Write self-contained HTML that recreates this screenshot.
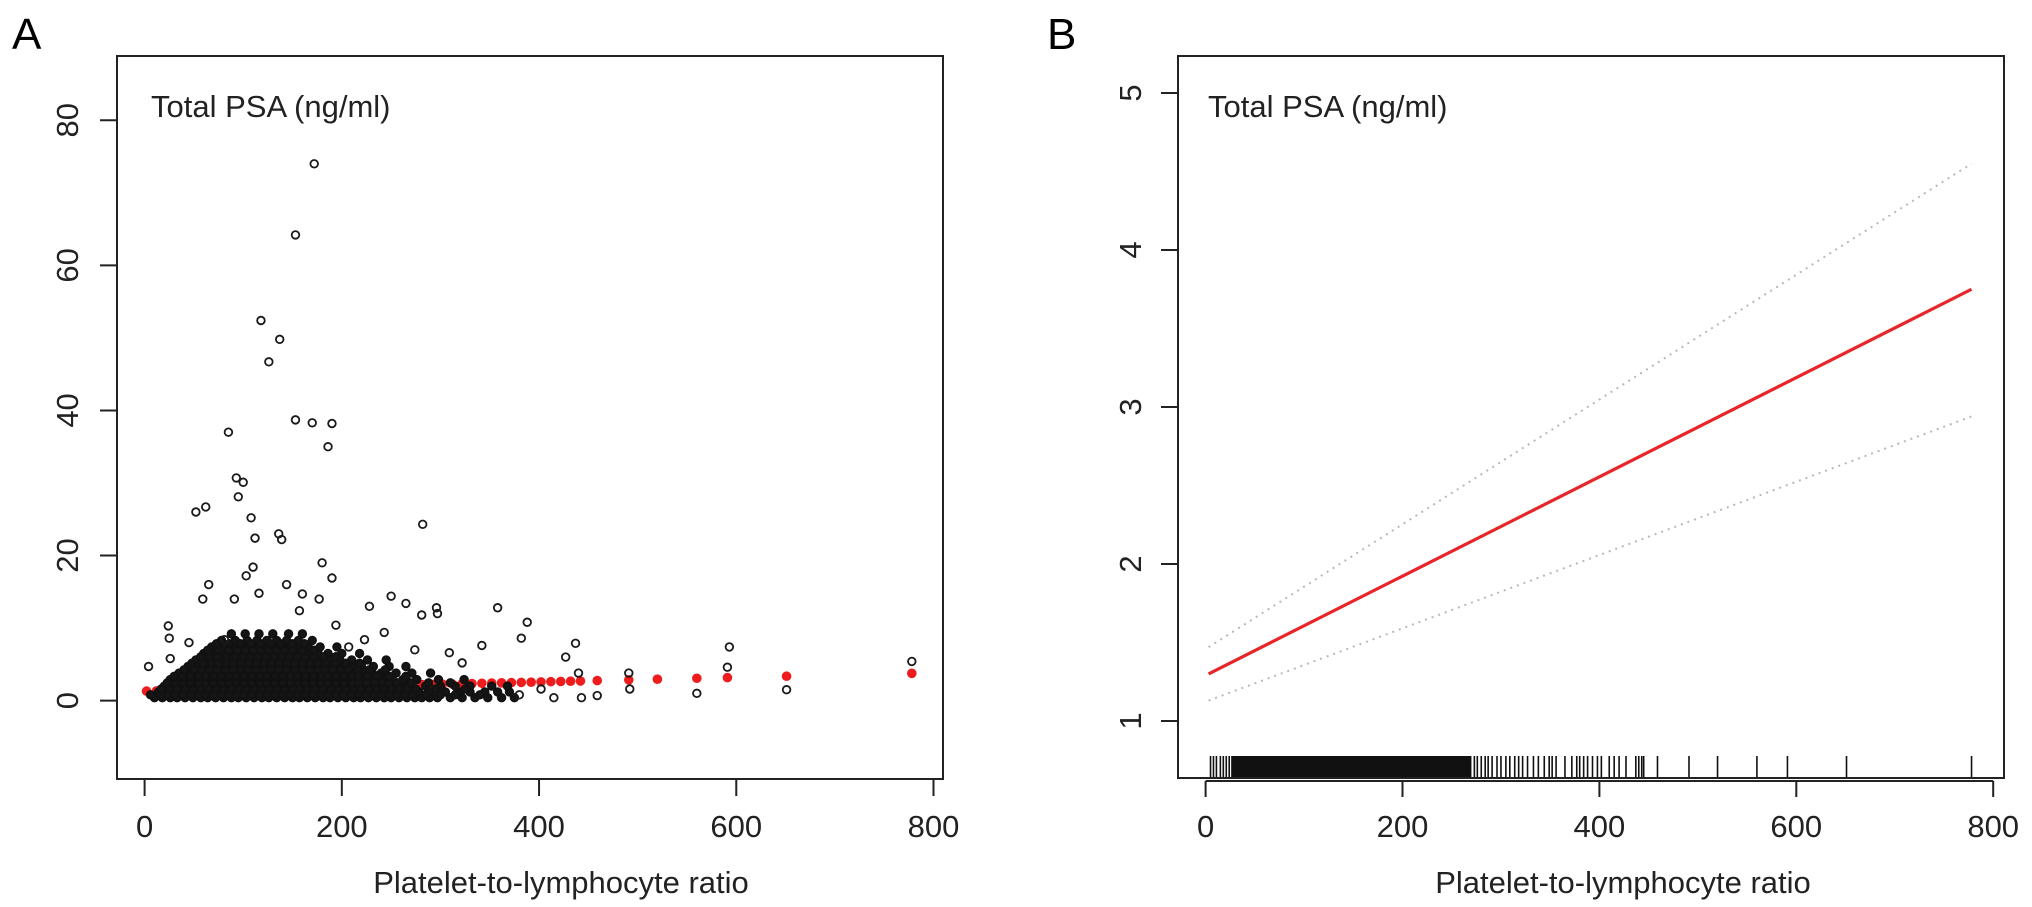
<!DOCTYPE html>
<html><head><meta charset="utf-8"><style>
html,body{margin:0;padding:0;background:#fff;}
svg{display:block;font-family:"Liberation Sans",Arial,sans-serif;}
</style></head>
<body>
<svg id="fig" width="2032" height="907" viewBox="0 0 2032 907" xmlns="http://www.w3.org/2000/svg">
<g id="panelA"></g>
<g id="panelB"></g>
</svg>
<script>
// ---------- Panel A data ----------
const aXTicks = [0, 200, 400, 600, 800];
const aYTicks = [0, 20, 40, 60, 80];
const outX = [172,153,118,137,126,153,170,190,186,85,93,100,95,52,62,108,112,136,139,282,180,190,65,110,103,144,116,91,59,160,177,250,228,265,296,358,297,388,281,24,25,26,4,382,437,427,342,593,591,491,492,560,651,778,459,443,440,402,415,380,309,322,274,243,223,194,81,45,157,207];
const outY = [74.0,64.2,52.4,49.8,46.7,38.7,38.3,38.2,35.0,37.0,30.7,30.1,28.1,26.0,26.7,25.2,22.4,23.0,22.2,24.3,19.0,16.9,16.0,18.4,17.2,16.0,14.8,14.0,14.0,14.7,14.0,14.4,13.0,13.4,12.8,12.8,12.0,10.8,11.8,10.3,8.6,5.8,4.7,8.6,7.9,6.0,7.6,7.4,4.6,3.8,1.6,1.0,1.5,5.4,0.7,0.4,3.8,1.6,0.4,0.8,6.6,5.2,7.0,9.4,8.4,10.4,8.4,8.0,12.4,7.4];
const blobRowY = [0.4,1.2,2.0,2.9,3.8,4.7,5.6,6.5,7.4,8.3,9.2,0.8,1.6,2.45,3.35,4.25,5.15,6.05,6.95,7.85];
const blobRowX = [
 [10,18,26,33,41,49,57,64,72,80,88,95,103,111,119,126,134,142,150,157,165,173,181,188,196,204,212,219,227,235,243,250,258,266,274,281,289,297,310,322,335,348,362,375],
 [14,22,30,37,45,53,61,68,76,84,92,99,107,115,123,130,138,146,154,161,169,177,185,192,200,208,216,223,231,239,247,254,262,270,278,290,305,318,330,345,358,370],
 [20,28,35,43,51,59,66,74,82,90,97,105,113,121,128,136,144,152,159,167,175,183,190,198,206,214,221,229,237,245,252,260,268,285,300,315,330,352,368],
 [26,34,42,50,58,65,73,81,89,96,104,112,120,127,135,143,151,158,166,174,182,189,197,205,213,220,228,236,244,251,262,276,298,324],
 [35,45,53,60,68,76,84,91,99,107,115,122,130,138,146,153,161,169,177,184,192,200,208,215,223,231,240,255,271,290],
 [44,55,63,71,79,86,94,102,110,117,125,133,141,148,156,164,172,179,187,195,203,211,220,232,248,265],
 [52,62,70,78,86,94,101,109,117,125,132,140,148,156,163,171,179,188,198,210,226,245],
 [60,70,80,88,96,104,112,119,127,135,143,151,159,167,176,186,200,218],
 [68,80,90,100,108,116,124,132,140,148,157,166,178,195],
 [78,92,104,114,124,134,144,156,170],
 [88,102,116,130,146,160],
 [6,16,24,31,39,47,55,62,70,78,86,93,101,109,117,124,132,140,148,155,163,171,179,186,194,202,210,217,225,233,241,248,256,264,272,285,300,315,340],
 [17,25,33,41,49,57,64,72,80,88,95,103,111,119,126,134,142,150,157,165,173,181,188,196,204,212,219,227,235,243,250,258,266,275,295,325],
 [23,31,39,47,55,62,70,78,86,93,101,109,117,124,132,140,148,155,163,171,179,186,194,202,210,217,225,233,241,248,256,270,288,310],
 [30,39,47,55,62,70,78,86,93,101,109,117,124,132,140,148,155,163,171,179,186,194,202,210,217,226,236,248,265],
 [40,50,58,66,74,82,90,97,105,113,121,128,136,144,152,160,168,176,183,191,199,207,216,228,244],
 [48,59,67,75,83,90,98,106,114,121,129,137,145,152,160,168,176,184,193,204,218],
 [57,66,74,83,91,99,107,115,123,131,139,147,155,163,172,182,194],
 [64,75,85,94,102,110,118,126,134,142,150,160,172],
 [73,86,97,108,118,128,138,150,162]
];
const redX = [2,12,22,32,42,52,62,72,82,92,102,112,122,132,142,152,162,172,182,192,202,212,222,232,242,252,262,272,282,292,302,312,322,332,342,352,362,372,382,392,402,412,422,432,442,459,491,520,560,591,651,778];
const redY = [1.31,1.34,1.37,1.40,1.44,1.47,1.50,1.53,1.56,1.60,1.63,1.66,1.69,1.72,1.75,1.79,1.82,1.85,1.88,1.91,1.94,1.98,2.01,2.04,2.07,2.10,2.13,2.17,2.20,2.23,2.26,2.29,2.32,2.35,2.39,2.42,2.45,2.48,2.51,2.54,2.58,2.61,2.64,2.67,2.70,2.76,2.86,2.95,3.08,3.17,3.36,3.76];

// ---------- Panel B data ----------
const bXTicks = [0, 200, 400, 600, 800];
const bYTicks = [1, 2, 3, 4, 5];
const fitX = [3, 778];
const fitY = [1.30, 3.75];
const upperY = [1.47, 4.55];
const lowerY = [1.13, 2.94];
const rugX = [5,8,11,15,18,21,24,28,31,34,37,40,43,46,49,52,55,58,61,64,67,70,73,76,79,82,85,88,91,94,97,100,103,106,109,112,115,118,121,124,127,130,133,136,139,142,145,148,151,154,157,160,163,166,169,172,175,178,181,184,187,190,193,196,199,202,205,208,211,214,217,220,223,226,229,232,235,238,241,244,247,250,253,256,259,262,265,268,273,276,280,284,287,291,296,300,305,309,314,318,322,327,333,338,344,349,352,356,365,372,377,380,384,388,393,398,402,410,415,420,427,437,440,443,445,459,491,520,560,591,651,778];

const NS = "http://www.w3.org/2000/svg";
function mk(parent, tag, attrs, text){
  const el = document.createElementNS(NS, tag);
  for (const k in attrs) el.setAttribute(k, attrs[k]);
  if (text !== undefined) el.textContent = text;
  parent.appendChild(el);
  return el;
}

// ---------- Panel A ----------
(function(){
  const g = document.getElementById('panelA');
  const box = {l:117, r:943, t:56, b:779};
  const xs = v => 144.6 + v * (933.5 - 144.6) / 800;
  const ys = v => 700.6 - v * (700.6 - 120.3) / 80;

  let t = mk(g, 'text', {x:12, y:49, 'font-size':44, fill:'#000'}, 'A');
  
  

  const red = mk(g, 'g', {});
  
  
  for (let i = 0; i < redX.length; i++) {
    const c = mk(red, 'circle', {cx:xs(redX[i]), cy:ys(redY[i]), r:4.8, fill:'#ee1c1c'});
    
    
  }

  const blob = mk(g, 'g', {fill:'#151515', stroke:'#111', 'stroke-width':1.8});
  
  
  for (let r = 0; r < blobRowY.length; r++) {
    for (let j = 0; j < blobRowX[r].length; j++) {
      const c = mk(blob, 'circle', {cx:xs(blobRowX[r][j]), cy:ys(blobRowY[r]), r:3.8});
      
      
    }
  }
  const pts = mk(g, 'g', {fill:'none', stroke:'#1a1a1a', 'stroke-width':1.8});
  
  
  for (let i = 0; i < outX.length; i++) {
    const c = mk(pts, 'circle', {cx:xs(outX[i]), cy:ys(outY[i]), r:3.8});
    
    
  }

  const fr = mk(g, 'rect', {x:box.l, y:box.t, width:box.r-box.l, height:box.b-box.t, fill:'none', stroke:'#222', 'stroke-width':2});
  
  

  const xa = mk(g, 'g', {});
  
  
  mk(xa, 'line', {x1:xs(aXTicks[0]), x2:xs(aXTicks[aXTicks.length-1]), y1:box.b, y2:box.b, stroke:'#222', 'stroke-width':2});
  aXTicks.forEach(v => {
    mk(xa, 'line', {x1:xs(v), x2:xs(v), y1:box.b, y2:box.b+17, stroke:'#222', 'stroke-width':2});
    const l = mk(xa, 'text', {x:xs(v), y:837, 'font-size':31, 'text-anchor':'middle', fill:'#222'}, String(v));
    
    
  });
  const ya = mk(g, 'g', {});
  
  
  mk(ya, 'line', {x1:box.l, x2:box.l, y1:ys(aYTicks[0]), y2:ys(aYTicks[aYTicks.length-1]), stroke:'#222', 'stroke-width':2});
  aYTicks.forEach(v => {
    mk(ya, 'line', {x1:box.l-17, x2:box.l, y1:ys(v), y2:ys(v), stroke:'#222', 'stroke-width':2});
    const l = mk(ya, 'text', {x:0, y:0, 'font-size':31, 'text-anchor':'middle', fill:'#222', transform:`translate(78,${ys(v)}) rotate(-90)`}, String(v));
    
    
  });
  const xl = mk(g, 'text', {x:561, y:893, 'font-size':31, 'text-anchor':'middle', fill:'#222'}, 'Platelet-to-lymphocyte ratio');
  
  
  const ti = mk(g, 'text', {x:151, y:117, 'font-size':31, fill:'#222'}, 'Total PSA (ng/ml)');
  
  
})();

// ---------- Panel B ----------
(function(){
  const g = document.getElementById('panelB');
  const box = {l:1178, r:2004, t:56, b:778};
  const xs = v => 1205.6 + v * (1993.2 - 1205.6) / 800;
  const ys = v => 721 - (v - 1) * (721 - 93) / 4;

  let t = mk(g, 'text', {x:1047, y:49, 'font-size':44, fill:'#000'}, 'B');
  
  

  const rug = mk(g, 'g', {stroke:'#111'});
  
  
  rugX.forEach(v => {
    const l = mk(rug, 'line', {x1:xs(v), x2:xs(v), y1:box.b, y2:box.b-22, 'stroke-width': (v >= 28 && v < 270) ? 4 : 1.6});
    
    
  });

  const up = mk(g, 'line', {x1:xs(fitX[0]), y1:ys(upperY[0]), x2:xs(fitX[1]), y2:ys(upperY[1]), stroke:'#b8b8b8', 'stroke-width':2, 'stroke-dasharray':'2,5'});
  
  
  const lo = mk(g, 'line', {x1:xs(fitX[0]), y1:ys(lowerY[0]), x2:xs(fitX[1]), y2:ys(lowerY[1]), stroke:'#b8b8b8', 'stroke-width':2, 'stroke-dasharray':'2,5'});
  
  
  const fit = mk(g, 'line', {x1:xs(fitX[0]), y1:ys(fitY[0]), x2:xs(fitX[1]), y2:ys(fitY[1]), stroke:'#e8262a', 'stroke-width':3.2});
  
  

  const fr = mk(g, 'rect', {x:box.l, y:box.t, width:box.r-box.l, height:box.b-box.t, fill:'none', stroke:'#222', 'stroke-width':2});
  
  

  const xa = mk(g, 'g', {});
  
  
  mk(xa, 'line', {x1:xs(bXTicks[0]), x2:xs(bXTicks[bXTicks.length-1]), y1:box.b+3, y2:box.b+3, stroke:'#222', 'stroke-width':2});
  bXTicks.forEach(v => {
    mk(xa, 'line', {x1:xs(v), x2:xs(v), y1:box.b+3, y2:box.b+19, stroke:'#222', 'stroke-width':2});
    const l = mk(xa, 'text', {x:xs(v), y:837, 'font-size':31, 'text-anchor':'middle', fill:'#222'}, String(v));
    
    
  });
  const ya = mk(g, 'g', {});
  
  
  mk(ya, 'line', {x1:box.l, x2:box.l, y1:ys(bYTicks[0]), y2:ys(bYTicks[bYTicks.length-1]), stroke:'#222', 'stroke-width':2});
  bYTicks.forEach(v => {
    mk(ya, 'line', {x1:box.l-17, x2:box.l, y1:ys(v), y2:ys(v), stroke:'#222', 'stroke-width':2});
    const l = mk(ya, 'text', {x:0, y:0, 'font-size':31, 'text-anchor':'middle', fill:'#222', transform:`translate(1141,${ys(v)}) rotate(-90)`}, String(v));
    
    
  });
  const xl = mk(g, 'text', {x:1623, y:893, 'font-size':31, 'text-anchor':'middle', fill:'#222'}, 'Platelet-to-lymphocyte ratio');
  
  
  const ti = mk(g, 'text', {x:1208, y:117, 'font-size':31, fill:'#222'}, 'Total PSA (ng/ml)');
  
  
})();
</script>
</body></html>
